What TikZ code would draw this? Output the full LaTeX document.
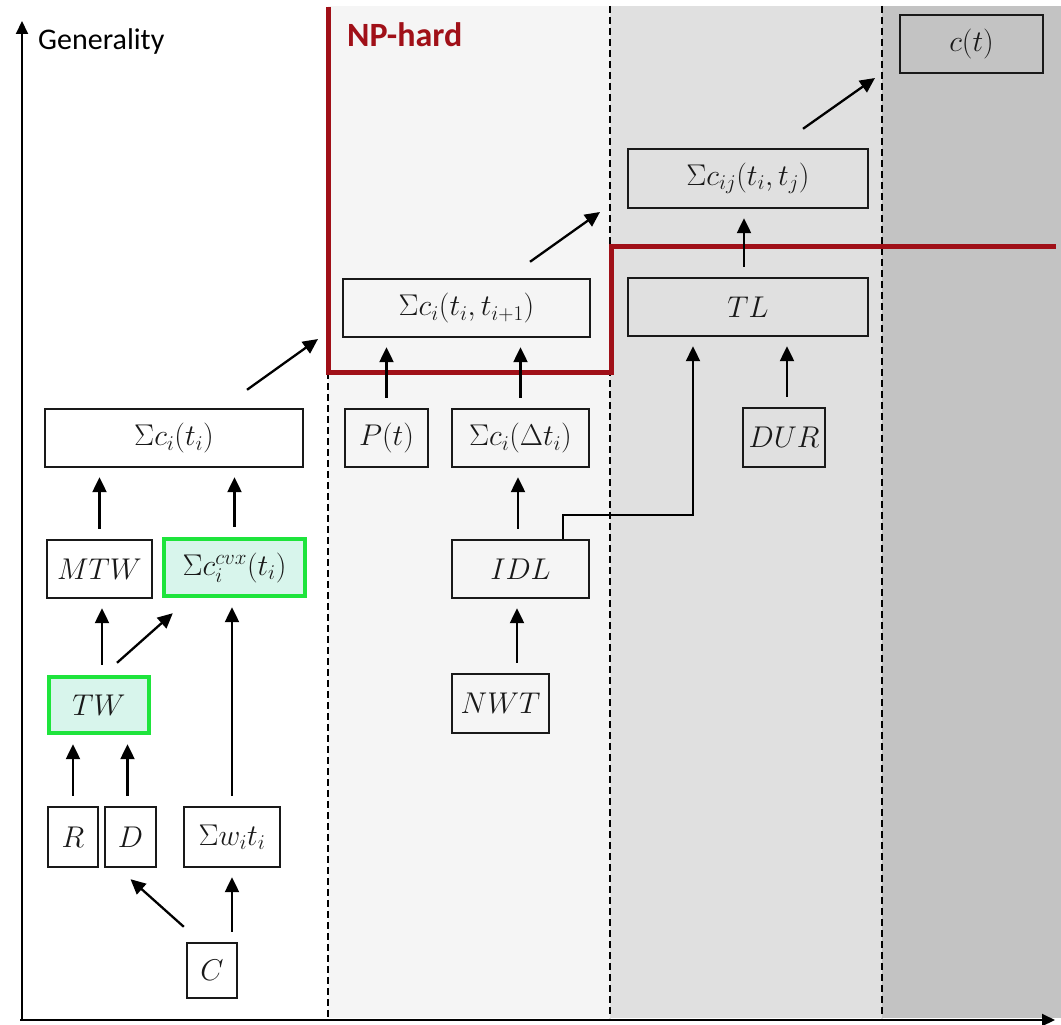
\documentclass[tikz,border=0pt]{standalone}
\usepackage{fix-cm}
\usepackage{fontspec}
\newfontfamily\carlito{Carlito}
\usetikzlibrary{arrows.meta,calc}
\definecolor{npred}{RGB}{160,16,24}
\definecolor{bgA}{RGB}{245,245,245}
\definecolor{bgB}{RGB}{224,224,224}
\definecolor{bgC}{RGB}{195,195,195}
\definecolor{grn}{RGB}{30,228,60}
\definecolor{grnfill}{RGB}{216,245,236}
\definecolor{boxtext}{RGB}{25,25,25}
\tikzset{
  box/.style={draw=black!90, line width=2.4pt, inner sep=0pt, text=boxtext,
    font=\fontsize{30}{36}\selectfont},
  gbox/.style={box, draw=grn, line width=4.4pt, fill=grnfill},
  arr/.style={line width=2.3pt, -{Triangle[length=15pt,width=14pt]},
    shorten <=10pt, shorten >=9pt},
  arrx/.style={line width=2.3pt, -{Triangle[length=15pt,width=14pt]}},
  link/.style={line width=2pt, -{Triangle[length=15pt,width=14pt]}, shorten >=9pt},
  sep/.style={line width=2.2pt, dash pattern=on 7pt off 4pt},
  axis/.style={line width=2pt, -{Triangle[length=13pt,width=12pt]}},
}
\begin{document}
\begin{tikzpicture}[x=1pt,y=-1pt]
\useasboundingbox (0,0) rectangle (1061,1025);
% backgrounds
\fill[bgA] (328,6) rectangle (610,1018);
\fill[bgB] (610,6) rectangle (882,1018);
\fill[bgC] (882,6) rectangle (1061,1018);
% separators
\draw[sep] (328,372) -- (328,1018);
\draw[sep] (610,6) -- (610,1018);
\draw[sep] (882,6) -- (882,1018);
% NP-hard border
\draw[npred, line width=5pt, line join=miter] (328,7) -- (328,372) -- (611,372) -- (611,246) -- (1056,246);
\node[anchor=base west, text=npred, font=\carlito\bfseries\fontsize{34}{40}\selectfont, inner sep=0pt] (np) at (347,47) {NP-hard};
% axes
\coordinate (o) at (22,1020);
\coordinate (ytop) at (22,21);
\coordinate (xleft) at (20,1020);
\coordinate (xright) at (1055,1020);
\draw[axis] (o) -- (ytop);
\draw[axis] (xleft) -- (xright);
\node[anchor=base west, font=\carlito\fontsize{30}{36}\selectfont, inner sep=0pt] (gen) at (38,50) {Generality};
% nodes
\node[box, minimum width=143, minimum height=58] (ct) at (971.5,44) {$c(t)$};
\node[box, minimum width=240, minimum height=59] (cij) at (748,178.5) {$\Sigma c_{ij}(t_i,t_j)$};
\node[box, minimum width=240, minimum height=58] (TL) at (748,307) {$TL$};
\node[box, minimum width=247, minimum height=58] (cii) at (466.5,308) {$\Sigma c_i(t_i,t_{i+1})$};
\node[box, minimum width=258, minimum height=58] (ci) at (174,438) {$\Sigma c_i(t_i)$};
\node[box, minimum width=83, minimum height=58] (Pt) at (386.5,438) {$P(t)$};
\node[box, minimum width=137, minimum height=58] (cdt) at (520.5,438) {$\Sigma c_i(\Delta t_i)$};
\node[box, minimum width=82, minimum height=59] (DUR) at (784,437.5) {$DUR$};
\node[box, minimum width=105, minimum height=58] (MTW) at (99.5,569) {$MTW$};
\node[gbox, minimum width=141, minimum height=57] (cvx) at (234.5,567.5) {$\Sigma c_i^{cvx}(t_i)$};
\node[box, minimum width=137, minimum height=58] (IDL) at (520.5,569) {$IDL$};
\node[gbox, minimum width=100, minimum height=56] (TW) at (99,705) {$TW$};
\node[box, minimum width=97, minimum height=59] (NWT) at (500.5,703.5) {$NWT$};
\node[box, minimum width=50, minimum height=60] (R) at (73,837) {$R$};
\node[box, minimum width=51, minimum height=60] (D) at (130.5,837) {$D$};
\node[box, minimum width=96, minimum height=60] (w) at (232,837) {$\Sigma w_it_i$};
\node[box, minimum width=50, minimum height=55] (C) at (212,970.5) {$C$};
% free ends of the diagonal arrows
\coordinate (d1) at (318,339);
\coordinate (d2) at (600,212);
\coordinate (d3) at (875,78);
% helper anchors
\coordinate (Dtop) at ($(D.north)+(-3,0)$);
\coordinate (DURtop) at ($(DUR.north)+(3,0)$);
% arrows
\draw[arr] (MTW.north) -- (MTW.north |- ci.south);
\draw[arr] (cvx.north) -- (cvx.north |- ci.south);
\draw[arr] ($(TW.north)+(3,0)$) -- ($(MTW.south)+(2.5,0)$);
\draw[arrx] ($(TW.north)+(18,-12)$) -- ($(cvx.south west)+(11,15)$);
\draw[arr] (w.north) -- (w.north |- cvx.south);
\draw[arr] (R.north) -- (R.north |- TW.south);
\draw[arr] (Dtop) -- (Dtop |- TW.south);
\draw[arrx] ($(C.north west)+(-2,-15)$) -- ($(D.south)+(0,11)$);
\draw[arr] (w.south |- C.north) -- (w.south);
\draw[arr] ($(NWT.north)+(16.5,0)$) -- ($(IDL.south)+(-3.5,0)$);
\draw[arr] ($(IDL.north)+(-2.5,0)$) -- ($(cdt.south)+(-2.5,0)$);
\draw[link] ($(IDL.north)+(42.5,0)$) |- ($(TL.south)+(-55,178)$) -- ($(TL.south)+(-55,0)$);
\draw[arr] (DURtop) -- (DURtop |- TL.south);
\draw[arr] (Pt.north) -- (Pt.north |- cii.south);
\draw[arr] (cdt.north) -- (cdt.north |- cii.south);
\draw[arr] ($(TL.north)+(-4,0)$) -- ($(cij.south)+(-4,0)$);
\draw[arrx] ($(ci.north)+(73,-18)$) -- (d1);
\draw[arrx] ($(cii.north)+(63.5,-16)$) -- (d2);
\draw[arrx] ($(cij.north)+(55,-19)$) -- (d3);
\end{tikzpicture}
\end{document}
